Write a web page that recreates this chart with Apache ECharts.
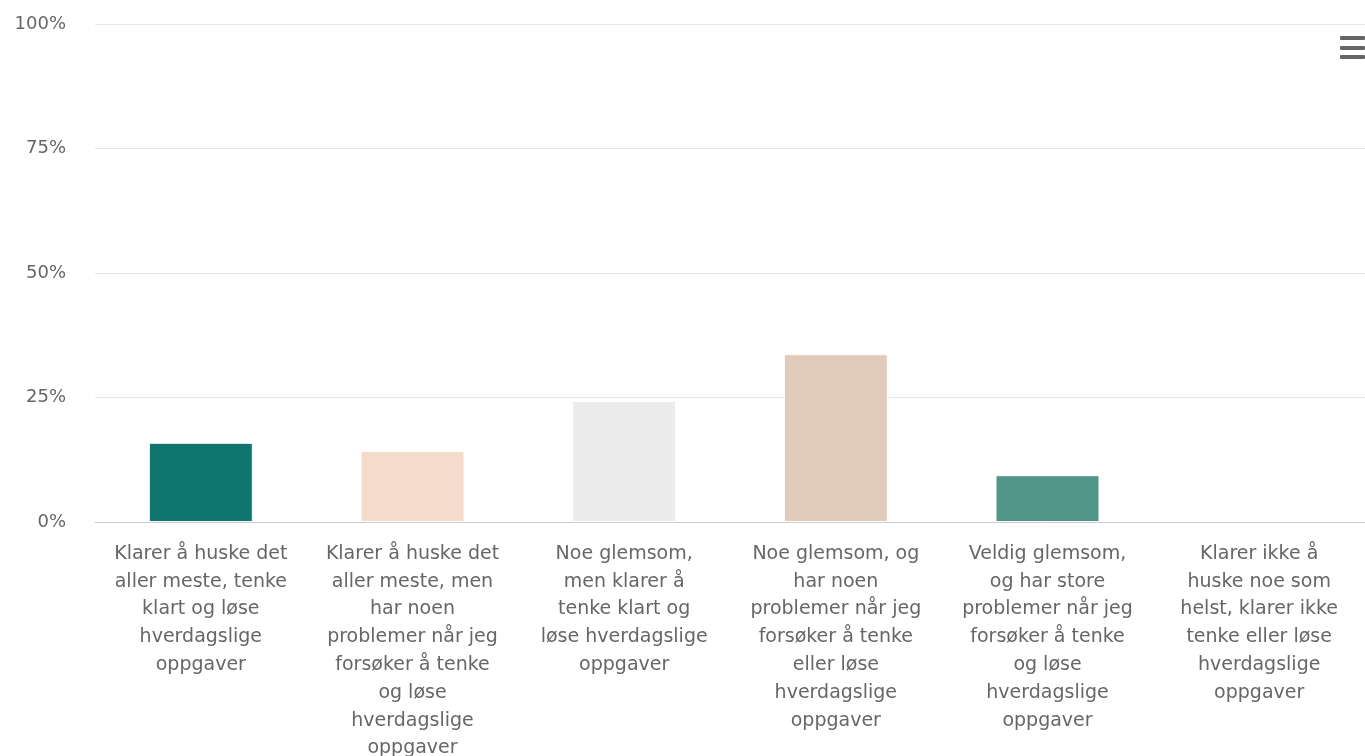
<!DOCTYPE html>
<html>
<head>
<meta charset="utf-8">
<script src="https://cdn.jsdelivr.net/npm/echarts@6/dist/echarts.min.js"></script>
<style>
  html, body { margin: 0; padding: 0; background: #fff; overflow: hidden; }
  #chart { width: 1365px; height: 756px; }
</style>
</head>
<body>
<div id="chart"></div>
<script>
// kategorier (linjeskift som i originalen)
var categories = [
  'Klarer å huske det\naller meste, tenke\nklart og løse\nhverdagslige\noppgaver',
  'Klarer å huske det\naller meste, men\nhar noen\nproblemer når jeg\nforsøker å tenke\nog løse\nhverdagslige\noppgaver',
  'Noe glemsom,\nmen klarer å\ntenke klart og\nløse hverdagslige\noppgaver',
  'Noe glemsom, og\nhar noen\nproblemer når jeg\nforsøker å tenke\neller løse\nhverdagslige\noppgaver',
  'Veldig glemsom,\nog har store\nproblemer når jeg\nforsøker å tenke\nog løse\nhverdagslige\noppgaver',
  'Klarer ikke å\nhuske noe som\nhelst, klarer ikke\ntenke eller løse\nhverdagslige\noppgaver'
];
var values = [15.9, 14.3, 24.3, 33.7, 9.4, 0];
var barColors = ['#11756f', '#f5dcca', '#ececec', '#e0cbbb', '#51968a', '#7cb5ec'];
var yTicks = [0, 25, 50, 75, 100];

var chart = echarts.init(document.getElementById('chart'));

var option = {
  animation: false,
  textStyle: { fontFamily: 'DejaVu Sans' },
  grid: { left: 95, right: 0, top: 24, bottom: 234, outerBoundsMode: 'none', containLabel: false },
  xAxis: {
    type: 'category',
    data: categories,
    axisTick: { show: false },
    axisLine: { lineStyle: { color: '#cccccc', width: 1 } },
    axisLabel: {
      interval: 0,
      color: '#666666',
      fontSize: 19,
      lineHeight: 27.8,
      margin: 18,
      align: 'center'
    }
  },
  yAxis: {
    type: 'value',
    min: yTicks[0],
    max: yTicks[yTicks.length - 1],
    interval: 25,
    axisLine: { show: false },
    axisTick: { show: false },
    splitLine: { lineStyle: { color: '#e6e6e6', width: 1 } },
    axisLabel: {
      color: '#666666',
      fontSize: 18,
      margin: 29,
      formatter: '{value}%'
    }
  },
  series: [{
    type: 'bar',
    barWidth: 104,
    data: values.map(function (v, i) {
      return {
        value: v,
        itemStyle: { color: barColors[i], borderColor: '#ffffff', borderWidth: v > 0 ? 1 : 0 }
      };
    })
  }],
  graphic: [
    { type: 'rect', shape: { x: 1340, y: 36, width: 25, height: 4, r: 1 }, style: { fill: '#666666' } },
    { type: 'rect', shape: { x: 1340, y: 46, width: 25, height: 4, r: 1 }, style: { fill: '#666666' } },
    { type: 'rect', shape: { x: 1340, y: 55, width: 25, height: 4, r: 1 }, style: { fill: '#666666' } }
  ]
};

chart.setOption(option);
</script>
</body>
</html>
